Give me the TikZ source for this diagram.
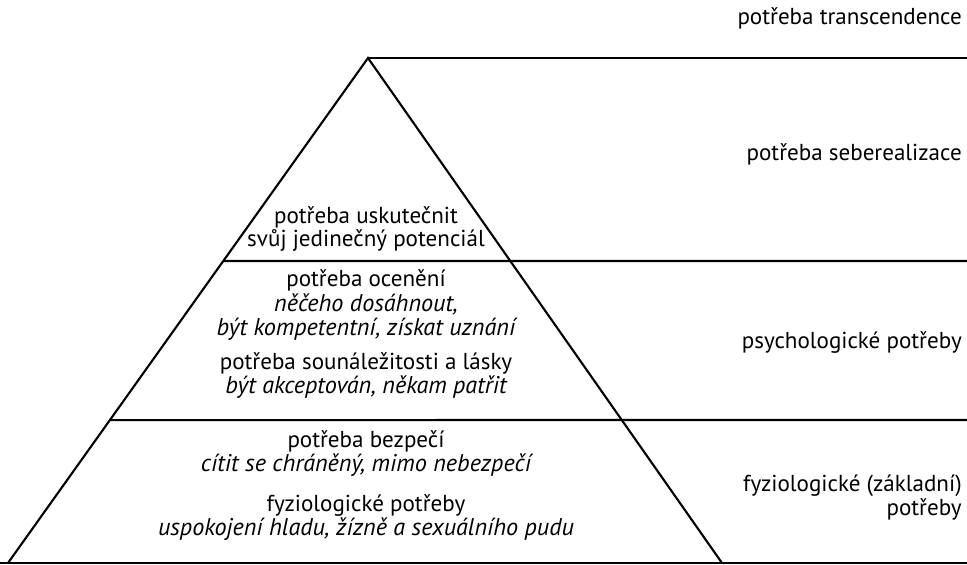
\documentclass[tikz,border=0pt]{standalone}
\usepackage{fontspec}
\setmainfont{PT Sans}
\usetikzlibrary{calc}

\begin{document}
\begin{tikzpicture}[x=0.025cm,y=-0.025cm,
  need/.style={font=\fontsize{16.4}{17}\selectfont,inner sep=0pt},
  hint/.style={font=\fontsize{17.2}{17}\selectfont\itshape,inner sep=0pt},
  side/.style={font=\fontsize{16.4}{17}\selectfont,inner sep=0pt,anchor=east,align=right},
  edge/.style={line width=1.5pt}]
\useasboundingbox (0,0) rectangle (967,565);
\coordinate (top) at (368,58);
\coordinate (bl) at (8,563);
\coordinate (br) at (722,563);
\coordinate (topR) at (967,58);
\coordinate (midL) at ($(top)!0.402!(bl)$);
\coordinate (lowL) at ($(top)!0.717!(bl)$);
\coordinate (midR) at (967,261);
\coordinate (lowR) at (967,420);
\coordinate (baseL) at (0,563);
\coordinate (baseR) at (967,563);
% pyramid and levels
\draw[edge] (bl) -- (top) -- (br);
\draw[edge] (top) -- (topR);
\draw[edge] (midL) -- (midR);
\draw[edge] (lowL) -- (lowR);
\draw[line width=2pt] (baseL) -- (baseR);
% texts in the pyramid
\node[need] (selfA) at (366,217) {potřeba uskutečnit};
\node[need] (selfB) at (366,240) {svůj jedinečný potenciál};
\node[need] (estA) at (366,280) {potřeba ocenění};
\node[hint] (estB) at (366,304) {něčeho dosáhnout,};
\node[hint] (estC) at (366,329) {být kompetentní, získat uznání};
\node[need] (loveA) at (366,363) {potřeba sounáležitosti a lásky};
\node[hint] (loveB) at (366,387) {být akceptován, někam patřit};
\node[need] (safeA) at (366,441) {potřeba bezpečí};
\node[hint] (safeB) at (366,465) {cítit se chráněný, mimo nebezpečí};
\node[need] (bodyA) at (366,505) {fyziologické potřeby};
\node[hint] (bodyB) at (366,529) {uspokojení hladu, žízně a sexuálního pudu};
% labels on the right
\node[side] (trans) at (962,18) {potřeba transcendence};
\node[side] (sebe) at (962,154) {potřeba seberealizace};
\node[side] (psych) at (962,343) {psychologické potřeby};
\node[side] (fyzio) at (962,498) {fyziologické (základní)\\potřeby};
\end{tikzpicture}
\end{document}
